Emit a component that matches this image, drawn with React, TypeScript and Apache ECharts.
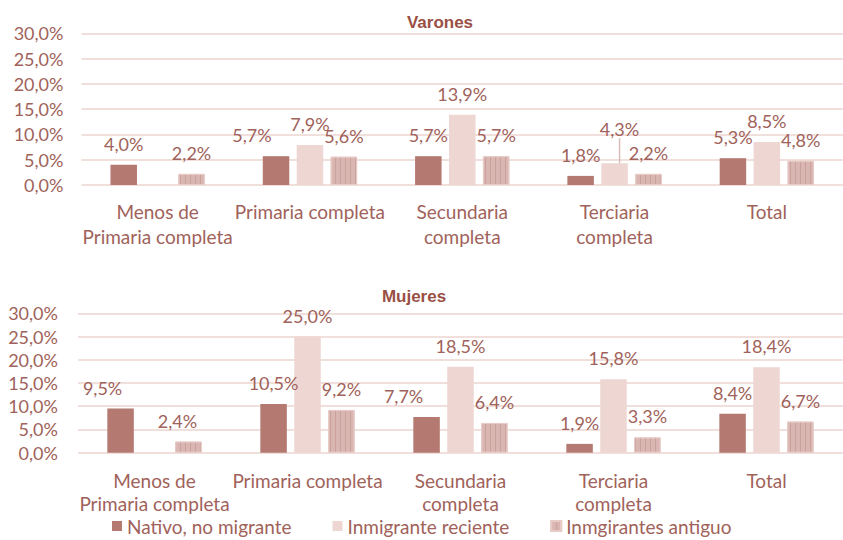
import React, { useEffect, useRef } from "react";
import * as echarts from "echarts";

const categories = [
  "Menos de\nPrimaria completa",
  "Primaria completa",
  "Secundaria\ncompleta",
  "Terciaria\ncompleta",
  "Total",
];
const seriesNames = ["Nativo, no migrante", "Inmigrante reciente", "Inmgirantes antiguo"];

const varonesNativo = [4.0, 5.7, 5.7, 1.8, 5.3];
const varonesReciente = [null, 7.9, 13.9, 4.3, 8.5];
const varonesAntiguo = [2.2, 5.6, 5.7, 2.2, 4.8];

const mujeresNativo = [9.5, 10.5, 7.7, 1.9, 8.4];
const mujeresReciente = [null, 25.0, 18.5, 15.8, 18.4];
const mujeresAntiguo = [2.4, 9.2, 6.4, 3.3, 6.7];

const yMin = 0;
const yMax = 30;
const yInterval = 5;

// label nudges (panel-series-index) in px
const labelNudges: Record<string, [number, number]> = {
  "0-0-1": [-24, 0],
  "0-1-3": [5, -13],
  "1-0-0": [-18, 0],
  "1-2-0": [-11, 0],
  "1-0-2": [-23, 0],
};
// labels that keep a leader line
const leaderLines = ["0-1-3"];

const TEXT = "#a0625a";
const COLORS = ["#b47a72", "#eed6d3", "#d9b6b1"];
const FONT = "Lato";

const fmt = (v: number) => v.toFixed(1).replace(".", ",") + "%";

export default function App() {
  const ref = useRef<HTMLDivElement>(null);
  useEffect(() => {
    document.body.style.margin = "0";
    const chart = echarts.init(ref.current!, null, { renderer: "svg" });
    const panels = [
      [varonesNativo, varonesReciente, varonesAntiguo],
      [mujeresNativo, mujeresReciente, mujeresAntiguo],
    ];
    const grids = [
      { left: 81.5, right: -6, top: 33.3, height: 151.7 },
      { left: 78, right: -9, top: 313.3, height: 139.4 },
    ];
    const series: any[] = [];
    panels.forEach((panel, p) => {
      panel.forEach((data, s) => {
        series.push({
          type: "bar",
          name: seriesNames[s],
          xAxisIndex: p,
          yAxisIndex: p,
          data: data.map((v, i) =>
            leaderLines.includes(`${p}-${s}-${i}`)
              ? { value: v, labelLine: { show: true } }
              : v
          ),
          barWidth: 26.5,
          barGap: "28%",
          itemStyle: {
            color: COLORS[s],
            borderColor: s === 2 ? "#e6cbc7" : undefined,
            borderWidth: s === 2 ? 1 : 0,
            decal:
              s === 2
                ? {
                    symbol: "rect",
                    symbolSize: 1,
                    dashArrayX: [1, 3.7],
                    dashArrayY: [4, 0],
                    color: "rgba(185,135,128,0.45)",
                    rotation: 0,
                  }
                : undefined,
          },
          label: {
            show: true,
            position: "top",
            distance: 12,
            color: TEXT,
            fontFamily: FONT,
            fontSize: 18,
            lineHeight: 18,
            formatter: (pr: any) => fmt(pr.value),
          },
          labelLine: {
            show: false,
            lineStyle: { color: "#d9bcb7", width: 1.5 },
          },
          labelLayout: (pr: any) => {
            const n = labelNudges[`${p}-${s}-${pr.dataIndex}`];
            return n ? { dx: n[0], dy: n[1] } : {};
          },
        });
      });
    });
    chart.setOption({
      animation: false,
      grid: grids,
      xAxis: grids.map((_, i) => ({
        type: "category",
        gridIndex: i,
        data: categories,
        axisLine: { show: false },
        axisTick: { show: false },
        axisLabel: {
          color: TEXT,
          fontFamily: FONT,
          fontSize: 19,
          lineHeight: i === 0 ? 25 : 23,
          margin: i === 0 ? 14 : 16,
          interval: 0,
        },
      })),
      yAxis: grids.map((_, i) => ({
        type: "value",
        gridIndex: i,
        min: yMin,
        max: yMax,
        interval: yInterval,
        axisLine: { show: false },
        axisTick: { show: false },
        splitLine: { lineStyle: { color: "#f1dfdc", width: 2 } },
        axisLabel: {
          color: TEXT,
          fontFamily: FONT,
          fontSize: 18,
          margin: i === 0 ? 18 : 20,
          formatter: (v: number) => fmt(v),
        },
      })),
      legend: {
        data: seriesNames,
        left: 112,
        top: 516,
        padding: 0,
        icon: "rect",
        itemWidth: 10,
        itemHeight: 10,
        itemGap: 41,
        textStyle: { color: TEXT, fontFamily: FONT, fontSize: 19, lineHeight: 20 },
      },
      graphic: [
        {
          type: "text",
          x: 440,
          y: 22,
          style: {
            text: "Varones",
            fill: "#9a4f45",
            font: "bold 17px 'Liberation Sans', Arial, sans-serif",
            textAlign: "center",
            textVerticalAlign: "middle",
          },
        },
        {
          type: "text",
          x: 414,
          y: 296,
          style: {
            text: "Mujeres",
            fill: "#9a4f45",
            font: "bold 17px 'Liberation Sans', Arial, sans-serif",
            textAlign: "center",
            textVerticalAlign: "middle",
          },
        },
      ],
      series,
    });
    return () => chart.dispose();
  }, []);
  return <div ref={ref} style={{ width: 843, height: 540 }} />;
}
